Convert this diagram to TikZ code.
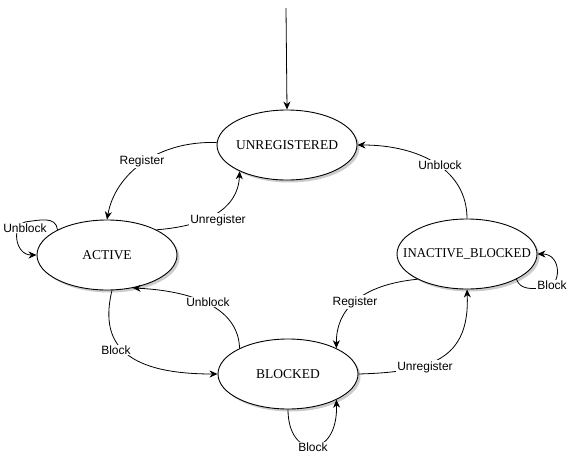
\documentclass[tikz,border=0pt]{standalone}
\usepackage{fontspec}
\usepackage{graphicx}
\setmainfont{Liberation Serif}
\newfontfamily\lblfont{Liberation Sans}
\usetikzlibrary{shapes.geometric,shadows,arrows.meta}
\begin{document}
\begin{tikzpicture}[x=1pt,y=-1pt,
  state/.style={ellipse,draw,line width=0.9pt,fill=white,minimum width=140pt,minimum height=70pt,inner sep=0pt,
    font=\fontsize{13.5}{16}\selectfont,
    drop shadow={shadow xshift=2.5pt,shadow yshift=-2.5pt,fill=black!40}},
  lbl/.style={fill=white,inner sep=1pt,font=\lblfont\fontsize{12}{14}\selectfont},
  edge/.style={line width=0.8pt,-{Stealth[length=8pt,width=7pt,inset=2.5pt]}}]
\useasboundingbox (0,0) rectangle (570,455);
\node[state] (unreg) at (287,145) {\makebox[0pt]{UNREGISTERED}};
\node[state] (active) at (107,255) {\makebox[0pt]{ACTIVE}};
\node[state] (ib) at (467,254) {\makebox[0pt]{\scalebox{0.95}[1]{INACTIVE\_BLOCKED}}};
\node[state] (blocked) at (288,374) {\makebox[0pt]{BLOCKED}};
\coordinate (init) at (286,8);
\draw[edge] (init) -- (unreg.north);
% Register: unreg -> active
\draw[edge] (unreg.178) .. controls +(-60,-2) and +(8,-45) .. (active.north);
\node[lbl] (l1) at (142,161) {Register};
% Unregister: active -> unreg
\draw[edge] (active.27) .. controls (205,226) and (238,210) .. (unreg.209);
\node[lbl] (l2) at (218,220) {Unregister};
% Unblock self loop on active
\draw[edge] (active.153) .. controls (56,216) and (40,220) .. (25,222) .. controls (12,224) and (14,255) .. (active.west);
\node[lbl] (l3) at (25,228) {Unblock};
% Unblock: blocked -> active
\draw[edge] (blocked.152) .. controls (238,300) and (175,290) .. (active.-52);
\node[lbl] (l4) at (208,302) {Unblock};
% Block: active -> blocked
\draw[edge] (active.-82) .. controls (100,340) and (120,374) .. (blocked.west);
\node[lbl] (l5) at (116,350) {Block};
% Block self loop on blocked
\draw[edge] (blocked.south) .. controls (288,460) and (338,460) .. (blocked.-28);
\node[lbl] (l6) at (313,447) {Block};
% Register: ib -> blocked
\draw[edge] (ib.-153) .. controls (360,285) and (336,310) .. (blocked.28);
\node[lbl] (l7) at (355,302) {Register};
% Unregister: blocked -> ib
\draw[edge] (blocked.east) .. controls (430,372) and (470,360) .. (ib.south);
\node[lbl] (l8) at (425,367) {Unregister};
% Unblock: ib -> unreg
\draw[edge] (ib.north) .. controls (467,170) and (420,145) .. (unreg.east);
\node[lbl] (l9) at (440,165) {Unblock};
% Block self loop on ib
\draw[edge] (ib.-27) .. controls (520,290) and (532,289) .. (545,288) .. controls (562,287) and (562,254) .. (ib.east);
\node[lbl] (l10) at (552,285) {Block};
\end{tikzpicture}
\end{document}
